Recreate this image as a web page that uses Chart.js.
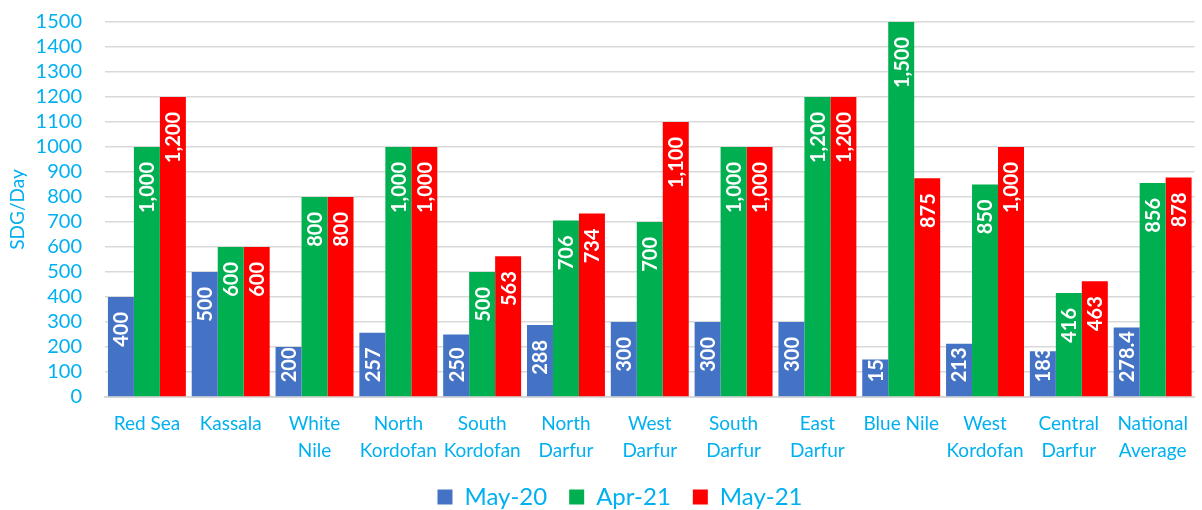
<!DOCTYPE html>
<html>
<head>
<meta charset="utf-8">
<script src="https://cdn.jsdelivr.net/npm/chart.js@4/dist/chart.umd.min.js"></script>
<style>
html,body{margin:0;padding:0;background:#fff;}
#wrap{width:1202px;height:510px;position:relative;}
</style>
</head>
<body>
<div id="wrap"><canvas id="c"></canvas></div>
<script>
const categories = [["Red Sea"],["Kassala"],["White","Nile"],["North","Kordofan"],["South","Kordofan"],["North","Darfur"],["West","Darfur"],["South","Darfur"],["East","Darfur"],["Blue Nile"],["West","Kordofan"],["Central","Darfur"],["National","Average"]];
const seriesNames = ["May-20","Apr-21","May-21"];
const may20 = [400,500,200,257,250,288,300,300,300,150,213,183,278.4];
const apr21 = [1000,600,800,1000,500,706,700,1000,1200,1500,850,416,856];
const may21 = [1200,600,800,1000,563,734,1100,1000,1200,875,1000,463,878];

const CYAN = '#00B0F0';
const FONT = 'Lato, "Open Sans", sans-serif';

const fmt = v => Number.isInteger(v) ? v.toLocaleString('en-US') : String(v);

const labelPlugin = {
  id: 'barLabels',
  afterLayout(chart) {
    if (chart.legend) { chart.legend.left += 18; chart.legend.right += 18; }
  },
  afterDatasetsDraw(chart) {
    const ctx = chart.ctx;
    ctx.save();
    ctx.fillStyle = '#ffffff';
    ctx.font = 'bold 20px ' + FONT;
    ctx.textAlign = 'left';
    ctx.textBaseline = 'middle';
    chart.data.datasets.forEach((ds, di) => {
      const meta = chart.getDatasetMeta(di);
      meta.data.forEach((bar, i) => {
        const txt = fmt(ds.data[i]);
        const w = ctx.measureText(txt).width;
        let top = bar.y + 15;
        const limit = bar.base - 14;
        if (top + w > limit) top = limit - w;
        ctx.save();
        ctx.translate(bar.x + 1, top + w);
        ctx.rotate(-Math.PI / 2);
        ctx.fillText(txt, 0, 0);
        ctx.restore();
      });
    });
    ctx.restore();
  }
};

new Chart(document.getElementById('c'), {
  type: 'bar',
  data: {
    labels: categories,
    datasets: [
      {label: seriesNames[0], data: may20, backgroundColor: '#4472C4'},
      {label: seriesNames[1], data: apr21, backgroundColor: '#00B050'},
      {label: seriesNames[2], data: may21, backgroundColor: '#FF0000'}
    ]
  },
  options: {
    responsive: true,
    maintainAspectRatio: false,
    animation: false,
    layout: {padding: {top: 0, right: 2, left: 4, bottom: -9}},
    datasets: {bar: {categoryPercentage: 0.93, barPercentage: 1.0, borderWidth: 0}},
    plugins: {
      legend: {
        position: 'bottom',
        labels: {
          color: CYAN,
          font: {family: FONT, size: 24},
          boxWidth: 15, boxHeight: 15,
          padding: 22
        }
      },
      tooltip: {enabled: false}
    },
    scales: {
      x: {
        afterFit: (scale) => { scale.height = 66; },
        grid: {display: false, drawTicks: false},
        border: {color: '#d9d9d9', width: 2},
        ticks: {color: CYAN, font: {family: FONT, size: 19, lineHeight: 1.4}, maxRotation: 0, autoSkip: false, padding: 14}
      },
      y: {
        min: 0, max: 1500,
        afterFit: (scale) => { scale.width = 101; scale.paddingTop = 22; scale.paddingBottom = 0; },
        grid: {color: '#d9d9d9', lineWidth: 1.5, drawTicks: false},
        border: {display: false},
        ticks: {color: CYAN, font: {family: FONT, size: 20}, padding: 23, stepSize: 100, autoSkip: false,
                callback: (v) => String(v)},
        title: {display: true, text: 'SDG/Day', color: CYAN, font: {family: FONT, size: 19}, padding: 2}
      }
    }
  },
  plugins: [labelPlugin]
});
</script>
</body>
</html>
